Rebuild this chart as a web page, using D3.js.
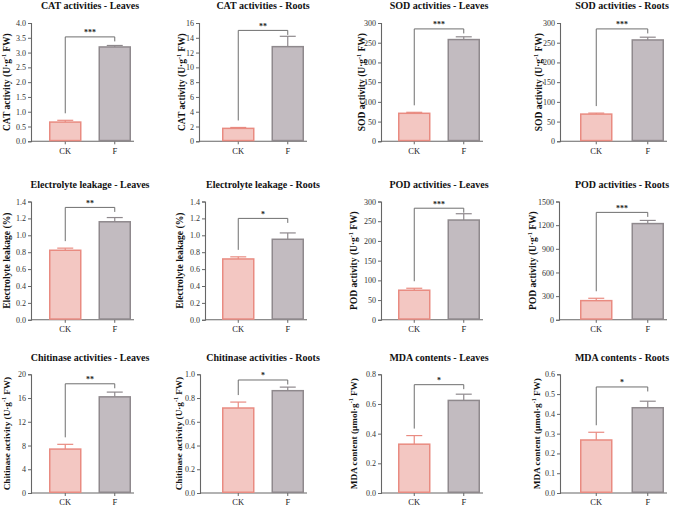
<!DOCTYPE html>
<html>
<head>
<meta charset="utf-8">
<script src="https://cdn.jsdelivr.net/npm/d3@7"></script>
<style>
  body { margin: 0; background: #fff; }
  svg { display: block; }
  svg text { font-family: "Liberation Serif", "DejaVu Serif", serif; }
</style>
</head>
<body>
<svg id="chart" width="683" height="508"></svg>
<script>
// ---- data ----
const groups = ["CK", "F"];
const titles = [
  "CAT activities - Leaves", "CAT activities - Roots", "SOD activities - Leaves", "SOD activities - Roots",
  "Electrolyte leakage - Leaves", "Electrolyte leakage - Roots", "POD activities - Leaves", "POD activities - Roots",
  "Chitinase activities - Leaves", "Chitinase activities - Roots", "MDA contents - Leaves", "MDA contents - Roots"
];
const yLabels = [
  ["CAT activity (U·g", "-1", " FW)"], ["CAT activity (U·g", "-1", " FW)"],
  ["SOD activity (U·g", "-1", " FW)"], ["SOD activity (U·g", "-1", " FW)"],
  ["Electrolyte leakage (%)", "", ""], ["Electrolyte leakage (%)", "", ""],
  ["POD activity (U·g", "-1", " FW)"], ["POD activity (U·g", "-1", " FW)"],
  ["Chitinase activity (U·g", "-1", " FW)"], ["Chitinase activity (U·g", "-1", " FW)"],
  ["MDA content (μmol·g", "-1", " FW)"], ["MDA content (μmol·g", "-1", " FW)"]
];
const ckMeans = [0.65, 1.75, 71, 69, 0.823, 0.72, 75, 243, 7.4, 0.716, 0.329, 0.268];
const ckErrs  = [0.06, 0.12, 2.5, 2.5, 0.025, 0.025, 5, 30, 0.8, 0.05, 0.058, 0.039];
const fMeans  = [3.19, 12.8, 258, 257, 1.16, 0.953, 253, 1220, 16.2, 0.862, 0.624, 0.431];
const fErrs   = [0.05, 1.4, 7, 7, 0.05, 0.075, 16, 40, 0.8, 0.03, 0.042, 0.033];
const yMaxes  = [4, 16, 300, 300, 1.4, 1.4, 300, 1500, 20, 1.0, 0.8, 0.6];
const ySteps  = [0.5, 2, 50, 50, 0.2, 0.2, 50, 300, 4, 0.2, 0.2, 0.1];
const tickFormats = [".1f", "d", "d", "d", ".1f", ".1f", "d", "d", "d", ".1f", ".1f", ".1f"];
const stars   = ["***", "**", "***", "***", "**", "*", "***", "***", "**", "*", "*", "*"];
const sigLevels = [3.53, 15.0, 285, 285, 1.33, 1.2, 283, 1362, 18.4, 0.952, 0.73, 0.536];

// ---- layout ----
const axisX   = [31, 199, 381, 560, 31, 205, 381, 559, 31, 200, 381, 560];
const labelX  = [8, 183, 363, 540, 8, 181, 355, 534, 8, 180, 355, 538];
const labelSize = [9.5, 9.5, 9.5, 9.5, 9.6, 9.6, 9.5, 9.5, 9.2, 9.2, 9.2, 9.2];
const barRange = [[49, 131], [222, 304], [398, 480], [580, 664]];
const rowTop = [23, 201.5, 374.3];
const rowBottom = [141.3, 319.8, 493];
const titleY = [7, 186, 359];
const barW = 32.5;

const colors = {
  CK: { fill: "#f3c7c2", stroke: "#e98b81" },
  F:  { fill: "#c2bbc0", stroke: "#8f898d" }
};
const axisColor = "#666";

const svg = d3.select("#chart");

titles.forEach((title, i) => {
  const col = i % 4, row = Math.floor(i / 4);
  const [b0, b1] = barRange[col];
  const top = rowTop[row], bottom = rowBottom[row];
  const g = svg.append("g");

  const x = d3.scaleBand()
    .domain(groups)
    .range([b0, b1])
    .paddingInner(1 - barW / ((b1 - b0) - barW));

  const y = d3.scaleLinear()
    .domain([0, yMaxes[i]])
    .range([bottom, top]);

  // title
  g.append("text")
    .attr("x", (b0 + b1) / 2)
    .attr("y", titleY[row])
    .attr("text-anchor", "middle")
    .attr("dominant-baseline", "middle")
    .style("font-weight", "bold")
    .style("font-size", "10px")
    .attr("fill", "#111")
    .text(title);

  // y axis
  const yAxis = g.append("g")
    .attr("transform", `translate(${axisX[i]},0)`)
    .call(d3.axisLeft(y)
      .tickValues(d3.range(0, yMaxes[i] + ySteps[i] / 2, ySteps[i]))
      .tickFormat(d3.format(tickFormats[i]))
      .tickSize(3)
      .tickPadding(2));
  yAxis.attr("font-family", null);
  yAxis.select(".domain").attr("stroke", axisColor).attr("stroke-width", 1.1);
  yAxis.selectAll(".tick line").attr("stroke", axisColor);
  yAxis.selectAll(".tick text")
    .style("font-size", "8px")
    .attr("fill", "#333");

  // x axis
  const xAxis = g.append("g")
    .attr("transform", `translate(0,${bottom})`);
  xAxis.append("line")
    .attr("x1", axisX[i]).attr("x2", b1 + 3)
    .attr("stroke", axisColor).attr("stroke-width", 1.1);
  xAxis.selectAll(".xt")
    .data(groups)
    .join("line")
    .attr("x1", d => x(d) + x.bandwidth() / 2)
    .attr("x2", d => x(d) + x.bandwidth() / 2)
    .attr("y1", 0).attr("y2", 3)
    .attr("stroke", axisColor);
  xAxis.selectAll(".xl")
    .data(groups)
    .join("text")
    .attr("x", d => x(d) + x.bandwidth() / 2)
    .attr("y", 10.5)
    .attr("text-anchor", "middle")
    .attr("dominant-baseline", "middle")
    .style("font-size", "8.5px")
    .attr("fill", "#222")
    .text(d => d);

  // y label
  const lab = yLabels[i];
  const yl = g.append("text")
    .attr("transform", `translate(${labelX[i]},${(top + bottom) / 2}) rotate(-90)`)
    .attr("text-anchor", "middle")
    .attr("dominant-baseline", "middle")
    .style("font-weight", "bold")
    .style("font-size", labelSize[i] + "px")
    .attr("fill", "#111");
  yl.append("tspan").text(lab[0]);
  if (lab[1]) {
    yl.append("tspan").attr("dy", -3.5).style("font-size", "6px").text(lab[1]);
    yl.append("tspan").attr("dy", 3.5).text(lab[2]);
  }

  const means = [ckMeans[i], fMeans[i]];
  const errs = [ckErrs[i], fErrs[i]];
  const bars = groups.map((k, j) => ({ k, m: means[j], e: errs[j] }));

  // error bars (upper only)
  g.selectAll(".err")
    .data(bars)
    .join("g")
    .each(function (d) {
      const cx = x(d.k) + x.bandwidth() / 2;
      const sel = d3.select(this);
      sel.append("line")
        .attr("x1", cx).attr("x2", cx)
        .attr("y1", y(d.m)).attr("y2", y(d.m + d.e))
        .attr("stroke", colors[d.k].stroke).attr("stroke-width", 1.2);
      sel.append("line")
        .attr("x1", cx - 8).attr("x2", cx + 8)
        .attr("y1", y(d.m + d.e)).attr("y2", y(d.m + d.e))
        .attr("stroke", colors[d.k].stroke).attr("stroke-width", 1.2);
    });

  // bars
  g.selectAll(".bar")
    .data(bars)
    .join("rect")
    .attr("x", d => x(d.k) + 0.75)
    .attr("y", d => y(d.m))
    .attr("width", x.bandwidth() - 1.5)
    .attr("height", d => bottom - y(d.m) - 0.75)
    .attr("fill", d => colors[d.k].fill)
    .attr("stroke", d => colors[d.k].stroke)
    .attr("stroke-width", 1.5);

  // significance bracket
  const cx0 = x("CK") + x.bandwidth() / 2;
  const cx1 = x("F") + x.bandwidth() / 2;
  const ly = y(sigLevels[i]);
  const leftEnd = y(ckMeans[i] + ckErrs[i]) - 7;
  const rightEnd = ly + 4.5;
  g.append("path")
    .attr("d", `M${cx0},${leftEnd}V${ly}H${cx1}V${rightEnd}`)
    .attr("fill", "none")
    .attr("stroke", "#6f6f6f")
    .attr("stroke-width", 1);
  g.append("text")
    .attr("x", (cx0 + cx1) / 2)
    .attr("y", ly - 1.5)
    .attr("text-anchor", "middle")
    .style("font-weight", "bold")
    .style("font-size", "8px")
    .attr("fill", "#222")
    .text(stars[i]);
});
</script>
</body>
</html>
